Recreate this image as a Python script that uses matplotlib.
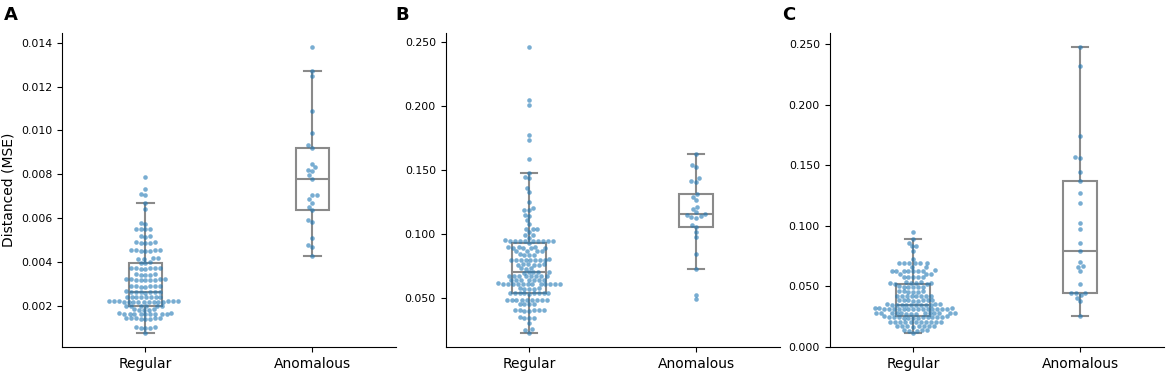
import matplotlib
matplotlib.use('Agg')
import matplotlib.pyplot as plt
from matplotlib.ticker import FormatStrFormatter
import pandas as pd
import seaborn as sns

groups = ['Regular', 'Anomalous']
panel_labels = ['A', 'B', 'C']
y_label = 'Distanced (MSE)'

# panel A
regular_a = [0.00078,
             0.00099, 0.00100, 0.00101, 0.00102, 0.00103,
             0.00140, 0.00141, 0.00142, 0.00143, 0.00143, 0.00144, 0.00145, 0.00146,
             0.00162, 0.00162, 0.00163, 0.00163, 0.00164, 0.00164, 0.00164, 0.00165, 0.00165, 0.00166, 0.00166,
             0.00182, 0.00183, 0.00183, 0.00184, 0.00185,
             0.00199, 0.00199, 0.00200, 0.00200, 0.00201, 0.00202,
             0.00218, 0.00218, 0.00219, 0.00219, 0.00219, 0.00220, 0.00220, 0.00220, 0.00220, 0.00221,
             0.00221, 0.00221, 0.00222, 0.00222, 0.00223,
             0.00239, 0.00240, 0.00240, 0.00241, 0.00241, 0.00242, 0.00242, 0.00243,
             0.00261, 0.00262, 0.00262, 0.00263, 0.00263, 0.00264, 0.00265, 0.00266,
             0.00287, 0.00288, 0.00289, 0.00289, 0.00290, 0.00291, 0.00292,
             0.00317, 0.00318, 0.00319, 0.00320, 0.00320, 0.00321, 0.00322, 0.00323, 0.00324,
             0.00341, 0.00342, 0.00343, 0.00344, 0.00345,
             0.00369, 0.00370, 0.00371, 0.00371, 0.00372, 0.00373, 0.00374,
             0.00396, 0.00398, 0.00400,
             0.00414, 0.00416, 0.00417, 0.00419,
             0.00450, 0.00451, 0.00452, 0.00453, 0.00454, 0.00455, 0.00456,
             0.00487, 0.00488, 0.00489, 0.00490, 0.00491,
             0.00515, 0.00517, 0.00519,
             0.00549, 0.00550, 0.00552, 0.00553,
             0.00573, 0.00578,
             0.00643, 0.00669, 0.00707, 0.00709, 0.00735, 0.00788]
anomalous_a = [0.00430, 0.00468, 0.00477, 0.00511, 0.00584, 0.00590, 0.00636,
               0.00651, 0.00671, 0.00686, 0.00704, 0.00704, 0.00780,
               0.00795, 0.00815, 0.00818, 0.00833, 0.00849, 0.00922,
               0.00933, 0.00989, 0.01089, 0.01248, 0.01272, 0.01379]

# panel B
regular_b = [0.0225,
             0.0248, 0.0252,
             0.0304,
             0.0341, 0.0342, 0.0344, 0.0345,
             0.0398, 0.0399, 0.0400, 0.0400, 0.0401, 0.0402, 0.0403,
             0.0449, 0.0450, 0.0452, 0.0453,
             0.0479, 0.0480, 0.0481, 0.0481, 0.0482, 0.0483, 0.0483, 0.0484, 0.0485,
             0.0532, 0.0533, 0.0534, 0.0534, 0.0535, 0.0536, 0.0536, 0.0537, 0.0538,
             0.0569, 0.0570, 0.0571, 0.0572, 0.0573,
             0.0603, 0.0604, 0.0605, 0.0605, 0.0606, 0.0606, 0.0607, 0.0607, 0.0608, 0.0608, 0.0609,
             0.0610, 0.0611,
             0.0637, 0.0638, 0.0638, 0.0639, 0.0640, 0.0640, 0.0641,
             0.0667, 0.0668, 0.0669, 0.0670, 0.0670, 0.0671, 0.0672, 0.0673,
             0.0696, 0.0698, 0.0699, 0.0701, 0.0703,
             0.0728, 0.0730, 0.0732,
             0.0757, 0.0758, 0.0759, 0.0761, 0.0762, 0.0763,
             0.0791, 0.0792, 0.0793, 0.0794, 0.0795, 0.0796, 0.0797, 0.0798, 0.0799,
             0.0834, 0.0835, 0.0837, 0.0838,
             0.0862, 0.0863, 0.0865, 0.0866,
             0.0889, 0.0890, 0.0891, 0.0892, 0.0893, 0.0894, 0.0895,
             0.0926,
             0.0940, 0.0941, 0.0942, 0.0943, 0.0944, 0.0944, 0.0945, 0.0946, 0.0947, 0.0948,
             0.0970, 0.0988, 0.0992, 0.1012, 0.1036, 0.1038, 0.1040, 0.1075, 0.1108,
             0.1140, 0.1144, 0.1185, 0.1189, 0.1200, 0.1247, 0.1325, 0.1356,
             0.1435, 0.1448, 0.1479, 0.1589, 0.1735, 0.1774, 0.2009, 0.2048, 0.2461]
anomalous_b = [0.0487, 0.0523, 0.0727, 0.0842, 0.0978, 0.1017, 0.1056,
               0.1067, 0.1125, 0.1130, 0.1138, 0.1150, 0.1158,
               0.1171, 0.1197, 0.1213, 0.1265, 0.1291, 0.1309,
               0.1406, 0.1416, 0.1437, 0.1521, 0.1542, 0.1623]

# panel C
regular_c = [0.0116,
             0.0132, 0.0134, 0.0135, 0.0136, 0.0138,
             0.0167, 0.0168, 0.0169, 0.0170, 0.0170, 0.0171, 0.0172, 0.0173,
             0.0202, 0.0203, 0.0203, 0.0204, 0.0204, 0.0205, 0.0205, 0.0206, 0.0206, 0.0207, 0.0208,
             0.0238, 0.0239, 0.0240, 0.0241, 0.0242, 0.0242, 0.0243, 0.0244, 0.0245, 0.0246, 0.0247,
             0.0249, 0.0251, 0.0253,
             0.0273, 0.0274, 0.0274, 0.0275, 0.0276, 0.0276, 0.0277, 0.0277, 0.0278, 0.0278, 0.0279,
             0.0280, 0.0280, 0.0281,
             0.0310, 0.0310, 0.0311, 0.0311, 0.0312, 0.0312, 0.0313, 0.0313, 0.0314, 0.0314, 0.0315,
             0.0315, 0.0316, 0.0316, 0.0317, 0.0317, 0.0318,
             0.0345, 0.0345, 0.0346, 0.0347, 0.0347, 0.0348, 0.0348, 0.0349, 0.0349, 0.0350, 0.0351,
             0.0351,
             0.0381, 0.0382, 0.0383, 0.0384, 0.0384, 0.0385, 0.0386, 0.0387,
             0.0417, 0.0418, 0.0419, 0.0420, 0.0420, 0.0421, 0.0422, 0.0423,
             0.0454, 0.0455, 0.0456, 0.0457, 0.0458, 0.0459,
             0.0494, 0.0495, 0.0496, 0.0497, 0.0498, 0.0499,
             0.0520, 0.0522, 0.0524, 0.0526, 0.0528, 0.0530, 0.0532, 0.0534,
             0.0573, 0.0575, 0.0576, 0.0577, 0.0579,
             0.0601, 0.0603, 0.0605,
             0.0625, 0.0626, 0.0627, 0.0628, 0.0628, 0.0629, 0.0630, 0.0631,
             0.0658, 0.0662,
             0.0689, 0.0690, 0.0691, 0.0692, 0.0693, 0.0694,
             0.0728, 0.0794, 0.0830, 0.0834, 0.0860, 0.0887, 0.0945]
anomalous_c = [0.0254, 0.0375, 0.0405, 0.0430, 0.0441, 0.0443, 0.0446,
               0.0521, 0.0628, 0.0662, 0.0670, 0.0700, 0.0791,
               0.0857, 0.0970, 0.1020, 0.1185, 0.1273, 0.1372,
               0.1444, 0.1562, 0.1568, 0.1742, 0.2318, 0.2475]

panels = [(regular_a, anomalous_a), (regular_b, anomalous_b), (regular_c, anomalous_c)]

point_color = '#1f77b4'
box_color = '#8a8a8a'

fig = plt.figure(figsize=(11.69, 3.72), dpi=100)
lefts = [0.0530, 0.3812, 0.7097]
letter_x = [0.003, 0.338, 0.669]

for i, (regular, anomalous) in enumerate(panels):
    ax = fig.add_axes([lefts[i], 0.0672, 0.2857, 0.844])
    df = pd.DataFrame({'group': [groups[0]] * len(regular) + [groups[1]] * len(anomalous),
                       'value': regular + anomalous})
    sns.swarmplot(data=df, x='group', y='value', order=groups, color=point_color,
                  alpha=0.6, size=3.3, ax=ax, zorder=3)
    line = dict(color=box_color, linewidth=1.5)
    ax.boxplot([regular, anomalous], positions=[0, 1], widths=0.2, showfliers=False,
               patch_artist=True, manage_ticks=False, zorder=1,
               boxprops=dict(facecolor='white', edgecolor=box_color, linewidth=1.5),
               whiskerprops=line, capprops=line, medianprops=line)
    ax.set_xlim(-0.5, 1.5)
    ax.set_xlabel('')
    ax.set_ylabel(y_label if i == 0 else '', fontsize=10)
    ax.yaxis.set_major_formatter(FormatStrFormatter('%.3f'))
    ax.tick_params(axis='x', labelsize=10)
    ax.tick_params(axis='y', labelsize=7.8)
    ax.spines['top'].set_visible(False)
    ax.spines['right'].set_visible(False)
    fig.text(letter_x[i], 0.985, panel_labels[i], fontsize=13, fontweight='bold', va='top', ha='left')

fig.savefig('out.png', dpi=100)
